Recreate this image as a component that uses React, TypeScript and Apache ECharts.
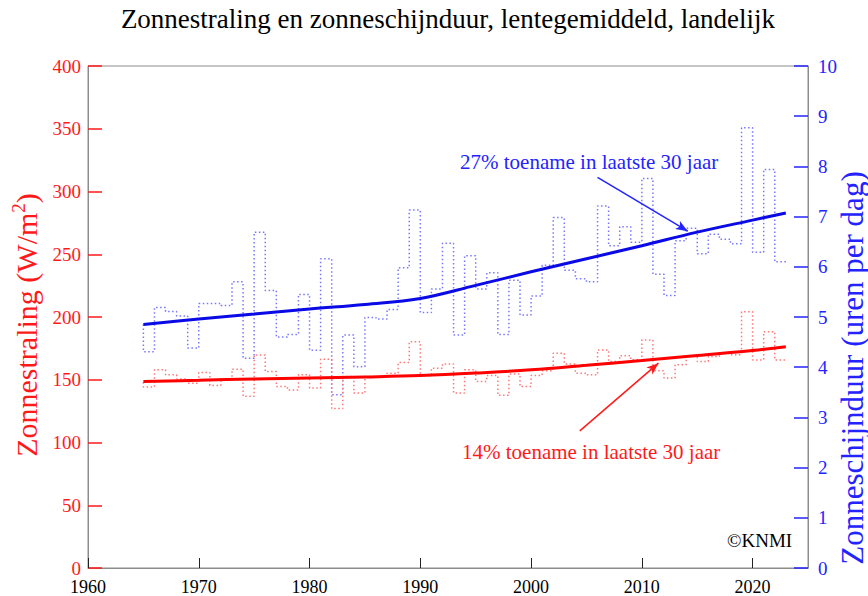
import React, { useEffect, useRef } from "react";
import * as echarts from "echarts";

const years: number[] = [
  1965, 1966, 1967, 1968, 1969, 1970, 1971, 1972, 1973, 1974, 1975, 1976, 1977, 1978, 1979,
  1980, 1981, 1982, 1983, 1984, 1985, 1986, 1987, 1988, 1989, 1990, 1991, 1992, 1993, 1994,
  1995, 1996, 1997, 1998, 1999, 2000, 2001, 2002, 2003, 2004, 2005, 2006, 2007, 2008, 2009,
  2010, 2011, 2012, 2013, 2014, 2015, 2016, 2017, 2018, 2019, 2020, 2021, 2022, 2023,
];

// Sunshine duration (hours per day), yearly spring mean
const sunshine: number[] = [
  4.85, 4.31, 5.19, 5.11, 5.02, 4.38, 5.27, 5.27, 5.23, 5.7, 4.18, 6.69, 5.53, 4.6, 4.65,
  5.45, 4.34, 6.16, 3.45, 4.64, 4.01, 4.99, 4.96, 5.15, 5.98, 7.13, 5.09, 5.56, 6.47, 4.64,
  6.22, 5.56, 5.88, 4.65, 5.73, 5.04, 5.42, 6.03, 6.98, 5.93, 5.76, 5.7, 7.21, 6.42, 6.8,
  6.49, 7.76, 5.85, 5.43, 6.52, 6.77, 6.26, 6.65, 6.55, 6.46, 8.77, 6.29, 7.94, 6.1,
];

// Global radiation (W/m2), yearly spring mean
const radiation: number[] = [
  148, 144.2, 157.9, 153.9, 150.5, 147.3, 155.8, 145.5, 150.5, 158.4, 136.8, 169.8, 156.5, 144.7, 141.8,
  153.9, 143.4, 166.3, 127, 152.6, 139.4, 152.6, 153, 155.2, 163.7, 180.3, 153.1, 159.2, 162.6, 139.4,
  157.9, 148.7, 153.4, 137.6, 154.5, 144.7, 153.4, 157.1, 171.1, 162.5, 155.2, 153.9, 173.7, 164.5, 169.2,
  166, 181.6, 157.1, 151.3, 162, 168.5, 164.5, 168.5, 171, 170, 204.1, 165.8, 188.3, 165.8,
];

const trendYears: number[] = [1965, 1970, 1975, 1980, 1985, 1990, 1995, 2000, 2005, 2010, 2015, 2020, 2023];
const sunshineTrend: number[] = [4.85, 4.96, 5.06, 5.16, 5.25, 5.37, 5.63, 5.9, 6.16, 6.42, 6.69, 6.93, 7.07];
const radiationTrend: number[] = [148.6, 149.6, 150.6, 151.4, 152.2, 153.3, 155.3, 157.9, 161.5, 165.3, 169.3, 173.3, 176.3];

const titleText = "Zonnestraling en zonneschijnduur, lentegemiddeld, landelijk";
const leftName = "Zonnestraling (W/m{sup|2})";
const rightName = "Zonneschijnduur (uren per dag)";
const blueNote = "27% toename in laatste 30 jaar";
const redNote = "14% toename in laatste 30 jaar";
const blueArrow: number[][] = [[2006.0, 7.78], [2014.15, 6.71]];
const redArrow: number[][] = [[2004.4, 109.3], [2011.5, 163.2]];

const FONT = "'Liberation Serif', 'DejaVu Serif', serif";
const RED = "#ff1a1a";
const BLUE = "#2323ff";

export default function App() {
  const ref = useRef<HTMLDivElement>(null);

  useEffect(() => {
    if (!ref.current) return;
    const chart = echarts.init(ref.current, undefined, { renderer: "svg" });
    const pair = (xs: number[], ys: number[]) => xs.map((x, i) => [x, ys[i]]);

    chart.setOption({
      animation: false,
      backgroundColor: "#ffffff",
      grid: {
        left: 88,
        right: 60,
        top: 66,
        bottom: 25,
        show: true,
        borderColor: "#8c8c8c",
        borderWidth: 1,
        containLabel: false,
      },
      xAxis: {
        type: "value",
        min: 1960,
        max: 2025,
        interval: 10,
        splitLine: { show: false },
        axisLine: { show: true, lineStyle: { color: "#8c8c8c", width: 1 } },
        axisTick: { show: true, inside: true, length: 10, lineStyle: { color: "#222", width: 1 } },
        axisLabel: {
          color: "#000",
          fontFamily: FONT,
          fontSize: 18,
          margin: 10,
          showMaxLabel: false,
          formatter: (v: number) => String(v),
        },
      },
      yAxis: [
        {
          type: "value",
          min: 0,
          max: 400,
          interval: 50,
          position: "left",
          splitLine: { show: false },
          axisLine: { show: true, lineStyle: { color: "#8c8c8c", width: 1 } },
          axisTick: { show: true, inside: true, length: 14, lineStyle: { color: RED, width: 1.5 } },
          axisLabel: { color: RED, fontFamily: FONT, fontSize: 19, margin: 7 },
        },
        {
          type: "value",
          min: 0,
          max: 10,
          interval: 1,
          position: "right",
          splitLine: { show: false },
          axisLine: { show: true, lineStyle: { color: "#8c8c8c", width: 1 } },
          axisTick: { show: true, inside: true, length: 14, lineStyle: { color: BLUE, width: 1.5 } },
          axisLabel: { color: BLUE, fontFamily: FONT, fontSize: 19, margin: 10 },
        },
      ],
      series: [
        {
          type: "line",
          yAxisIndex: 1,
          data: pair(years, sunshine),
          step: "start",
          symbol: "none",
          lineStyle: { color: "#7878ff", width: 1.5, type: [1.5, 2.5] },
          z: 2,
        },
        {
          type: "line",
          yAxisIndex: 0,
          data: pair(years, radiation),
          step: "start",
          symbol: "none",
          lineStyle: { color: "#ff7878", width: 1.5, type: [1.5, 2.5] },
          z: 2,
        },
        {
          type: "line",
          yAxisIndex: 1,
          data: pair(trendYears, sunshineTrend),
          smooth: 0.4,
          symbol: "none",
          lineStyle: { color: "#0a0ae6", width: 3 },
          z: 3,
          markLine: {
            silent: true,
            symbol: ["none", "arrow"],
            symbolSize: [7, 12],
            label: { show: false },
            lineStyle: { color: BLUE, width: 1.5, type: "solid" },
            data: [[{ coord: blueArrow[0] }, { coord: blueArrow[1] }]],
          },
        },
        {
          type: "line",
          yAxisIndex: 0,
          data: pair(trendYears, radiationTrend),
          smooth: 0.4,
          symbol: "none",
          lineStyle: { color: "#ff0000", width: 3 },
          z: 3,
          markLine: {
            silent: true,
            symbol: ["none", "arrow"],
            symbolSize: [7, 12],
            label: { show: false },
            lineStyle: { color: RED, width: 1.5, type: "solid" },
            data: [[{ coord: redArrow[0] }, { coord: redArrow[1] }]],
          },
        },
      ],
      graphic: [
        {
          type: "text",
          x: 448,
          y: 19,
          style: {
            text: titleText,
            fontFamily: FONT,
            fontSize: 27,
            fill: "#000",
            align: "center",
            verticalAlign: "middle",
          },
        },
        {
          type: "text",
          x: 26,
          y: 325,
          rotation: Math.PI / 2,
          style: {
            text: leftName,
            fontFamily: FONT,
            fontSize: 30,
            fill: RED,
            align: "center",
            verticalAlign: "middle",
            rich: {
              sup: {
                fontFamily: FONT,
                fontSize: 19,
                fill: RED,
                verticalAlign: "top",
                lineHeight: 34,
                padding: [0, 0, 12, 0],
              },
            },
          },
        },
        {
          type: "text",
          x: 852,
          y: 368,
          rotation: Math.PI / 2,
          style: {
            text: rightName,
            fontFamily: FONT,
            fontSize: 31,
            fill: BLUE,
            align: "center",
            verticalAlign: "middle",
          },
        },
        {
          type: "text",
          x: 460,
          y: 162,
          style: {
            text: blueNote,
            fontFamily: FONT,
            fontSize: 21,
            fill: BLUE,
            align: "left",
            verticalAlign: "middle",
          },
        },
        {
          type: "text",
          x: 462,
          y: 452,
          style: {
            text: redNote,
            fontFamily: FONT,
            fontSize: 21,
            fill: RED,
            align: "left",
            verticalAlign: "middle",
          },
        },
        {
          type: "text",
          x: 727,
          y: 540,
          style: {
            text: "©KNMI",
            fontFamily: FONT,
            fontSize: 19,
            fill: "#000",
            align: "left",
            verticalAlign: "middle",
          },
        },
      ],
    });

    return () => {
      chart.dispose();
    };
  }, []);

  return (
    <div
      ref={ref}
      style={{ position: "fixed", left: 0, top: 0, width: 868, height: 596, background: "#fff" }}
    />
  );
}
